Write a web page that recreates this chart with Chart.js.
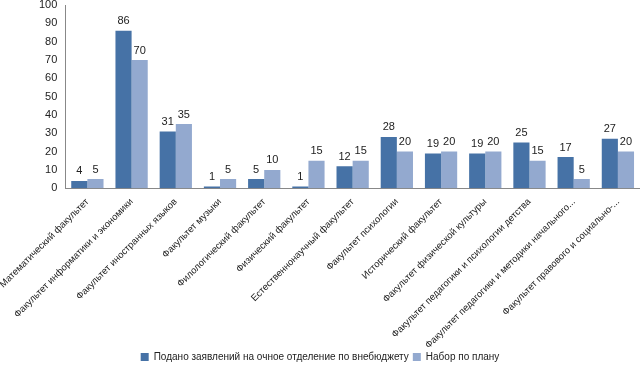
<!DOCTYPE html>
<html><head><meta charset="utf-8">
<script src="https://cdn.jsdelivr.net/npm/chart.js@4"></script>
<style>html,body{margin:0;padding:0;background:#fff}#w{width:640px;height:372px}</style>
</head><body><div id="w"><canvas id="c"></canvas></div>
<script>
const categories = [
  "Математический факультет",
  "Факультет информатики и экономики",
  "Факультет иностранных языков",
  "Факультет музыки",
  "Филологический факультет",
  "Физический факультет",
  "Естественнонаучный факультет",
  "Факультет психологии",
  "Исторический факультет",
  "Факультет физической культуры",
  "Факультет педагогики и психологии детства",
  "Факультет педагогики и методики начального...",
  "Факультет правового и социально-..."
];
const applied = [4, 86, 31, 1, 5, 1, 12, 28, 19, 19, 25, 17, 27];
const plan = [5, 70, 35, 5, 10, 15, 15, 20, 20, 20, 15, 5, 20];
const seriesNames = ["Подано заявлений на очное отделение по внебюджету", "Набор по плану"];
const yTicks = [0, 10, 20, 30, 40, 50, 60, 70, 80, 90, 100];

const FONT = '"Liberation Sans", Arial, sans-serif';

const valueLabels = {
  id: 'valueLabels',
  afterDatasetsDraw(chart) {
    const ctx = chart.ctx;
    ctx.save();
    ctx.font = '11px ' + FONT;
    ctx.fillStyle = '#222';
    ctx.textAlign = 'center';
    ctx.textBaseline = 'bottom';
    chart.data.datasets.forEach((ds, i) => {
      chart.getDatasetMeta(i).data.forEach((bar, j) => {
        ctx.fillText(String(ds.data[j]), bar.x, bar.y - 4);
      });
    });
    ctx.restore();
  }
};

new Chart(document.getElementById('c'), {
  type: 'bar',
  data: {
    labels: categories,
    datasets: [
      { label: seriesNames[0], data: applied, backgroundColor: '#4672A6', borderWidth: 0 },
      { label: seriesNames[1], data: plan, backgroundColor: '#93A9CF', borderWidth: 0 }
    ]
  },
  options: {
    responsive: true,
    maintainAspectRatio: false,
    animation: false,
    layout: { padding: { left: 0, right: 0, top: 5, bottom: 0 } },
    plugins: {
      legend: {
        position: 'bottom',
        labels: { boxWidth: 8, boxHeight: 8, font: { size: 10, family: FONT }, color: '#222', padding: 4 }
      },
      tooltip: { enabled: false }
    },
    scales: {
      x: {
        grid: { display: false, drawTicks: false },
        border: { color: '#888' },
        afterFit(scale) { scale.height -= 11; scale.paddingLeft -= 8; },
        ticks: { minRotation: 45, maxRotation: 45, autoSkip: false, padding: 8, color: '#222', font: { size: 9.5, family: FONT } }
      },
      y: {
        min: 0, max: 100,
        afterBuildTicks(scale) { scale.ticks = yTicks.map(v => ({ value: v })); },
        afterFit(scale) { scale.paddingTop = 0; },
        grid: { display: false, drawTicks: true, tickLength: 4 },
        border: { color: '#888' },
        ticks: { autoSkip: false, color: '#222', padding: 4, font: { size: 11, family: FONT } }
      }
    },
    datasets: { bar: { categoryPercentage: 0.73, barPercentage: 1.0 } }
  },
  plugins: [valueLabels]
});
</script>
</body></html>
